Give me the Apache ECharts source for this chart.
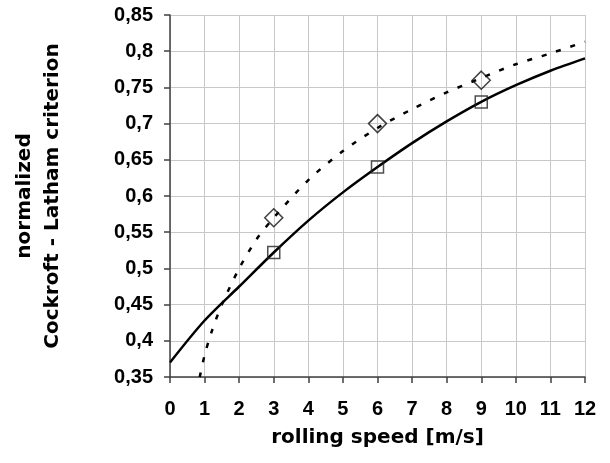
<!DOCTYPE html>
<html>
<head>
<meta charset="utf-8">
<script src="https://cdn.jsdelivr.net/npm/echarts@6/dist/echarts.min.js"></script>
<style>
    html, body { margin: 0; padding: 0; background: #fff; }
    #chart { width: 610px; height: 463px; }
</style>
</head>
<body>
<div id="chart"></div>
<script>
// solid curve (fit)
var solidX = [0, 1, 2, 3, 4, 5, 6, 7, 8, 9, 10, 11, 12];
var solidY = [0.37, 0.428, 0.475, 0.522, 0.566, 0.605, 0.64, 0.673, 0.703, 0.73, 0.753, 0.773, 0.79];
// dotted curve (fit)
var dashX = [0.86, 1, 1.2, 1.5, 2, 2.5, 3, 4, 5, 6, 7, 8, 9, 10, 11, 12];
var dashY = [0.35, 0.38, 0.412, 0.45, 0.5, 0.54, 0.57, 0.622, 0.662, 0.694, 0.72, 0.743, 0.763, 0.782, 0.797, 0.813];
// measured points
var pointX = [3, 6, 9];
var squareY = [0.522, 0.64, 0.73];
var diamondY = [0.57, 0.70, 0.76];

var TICK_FONT = "'Liberation Sans', Arial, sans-serif";
var NAME_FONT = "'DejaVu Sans', sans-serif";

function pairs(xs, ys) {
    var out = [];
    for (var i = 0; i < xs.length; i++) out.push([xs[i], ys[i]]);
    return out;
}

function comma_label(v) {
    return String(parseFloat(v.toFixed(2))).replace(".", ",");
}

var chart = echarts.init(document.getElementById("chart"), null, {renderer: "canvas"});
chart.setOption({
    animation: false,
    backgroundColor: "#fff",
    grid: {left: 170, right: 25, top: 15, bottom: 86},
    xAxis: {
        type: "value", min: 0, max: 12, interval: 1,
        name: "rolling speed [m/s]", nameLocation: "middle", nameGap: 51,
        nameTextStyle: {fontFamily: NAME_FONT, fontWeight: "bold", fontSize: 20, color: "#000"},
        axisLine: {onZero: false, lineStyle: {color: "#404040", width: 1.5}},
        axisTick: {show: true, length: 6, lineStyle: {color: "#404040", width: 1.5}},
        axisLabel: {margin: 22, fontFamily: TICK_FONT, fontWeight: "bold", fontSize: 20, color: "#000"},
        splitLine: {show: true, lineStyle: {color: "#c8c8c8", width: 1}}
    },
    yAxis: {
        type: "value", min: 0.35, max: 0.85, interval: 0.05,
        name: "normalized\nCockroft - Latham criterion", nameLocation: "middle", nameRotate: 90, nameGap: 103,
        nameTextStyle: {fontFamily: NAME_FONT, fontWeight: "bold", fontSize: 20, lineHeight: 28, color: "#000"},
        axisLine: {onZero: false, lineStyle: {color: "#404040", width: 1.5}},
        axisTick: {show: true, length: 6, lineStyle: {color: "#404040", width: 1.5}},
        axisLabel: {margin: 17, fontFamily: TICK_FONT, fontWeight: "bold", fontSize: 20, color: "#000", formatter: comma_label},
        splitLine: {show: true, lineStyle: {color: "#c8c8c8", width: 1}}
    },
    series: [
        {
            type: "line", data: pairs(solidX, solidY), smooth: 0.3, showSymbol: false,
            lineStyle: {color: "#000", width: 2.5}, z: 3
        },
        {
            type: "line", data: pairs(dashX, dashY), smooth: 0.3, showSymbol: false,
            lineStyle: {color: "#000", width: 2.5, type: [5, 10]}, z: 3
        },
        {
            type: "scatter", data: pairs(pointX, squareY), symbol: "rect", symbolSize: 12,
            itemStyle: {color: "rgba(0,0,0,0)", borderColor: "#222", borderWidth: 1.5}, z: 4
        },
        {
            type: "scatter", data: pairs(pointX, diamondY), symbol: "diamond", symbolSize: 18,
            itemStyle: {color: "rgba(0,0,0,0)", borderColor: "#111", borderWidth: 1.5}, z: 4
        }
    ]
});
</script>
</body>
</html>
